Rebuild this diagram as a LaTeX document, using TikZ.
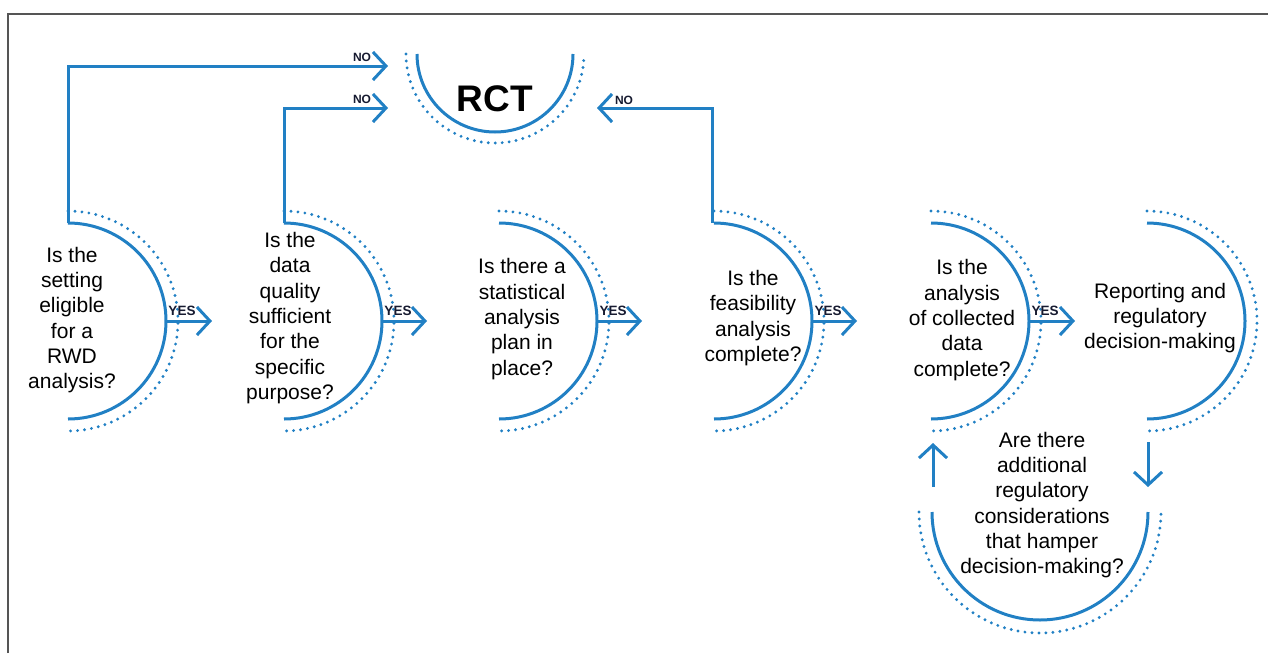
\documentclass[tikz,border=0pt]{standalone}
\usepackage{fontspec}
\setmainfont{Liberation Sans}
\usetikzlibrary{arrows.meta}
\definecolor{flowblue}{RGB}{33,128,196}
\definecolor{lblcol}{RGB}{22,26,48}
\definecolor{framegray}{RGB}{85,85,85}
\tikzset{
  solidarc/.style={draw=flowblue, line width=3pt},
  dotarc/.style={draw=flowblue, line width=3.2pt, line cap=round, dash pattern=on 0pt off 7pt},
  flowarrow/.style={draw=flowblue, line width=3pt, -{Straight Barb[length=13pt,width=28pt,line width=3pt]}},
  qtext/.style={font=\fontsize{21}{25.3}\selectfont, align=center, text=black, inner sep=0pt},
  lbl/.style={font=\fontsize{12}{13}\selectfont\bfseries, text=lblcol, inner sep=0pt},
  ylbl/.style={font=\fontsize{13.5}{14}\selectfont\bfseries, text=lblcol, inner sep=0pt},
}
\begin{document}
\begin{tikzpicture}[x=1pt,y=1pt]
\useasboundingbox (0,0) rectangle (1268,-653);
% frame
\draw[framegray, line width=2pt] (8,-653) -- (8,-14) -- (1268,-14);

% RCT
\draw[solidarc] (417,-54) arc[start angle=180, end angle=360, radius=78];
\draw[dotarc] (406,-54) arc[start angle=180, end angle=360, radius=89];
\node[font=\fontsize{37}{40}\selectfont\bfseries, inner sep=0pt] (rct) at (495,-99) {RCT};

% side half circles
\foreach \cx in {68,284,499,714,931,1147}{
  \draw[solidarc] (\cx,-223) arc[start angle=90, end angle=-90, radius=98];
  \draw[dotarc] (\cx,-211) arc[start angle=90, end angle=-90, radius=110];
}
% bottom half circle
\draw[solidarc] (932,-512) arc[start angle=180, end angle=360, radius=108];
\draw[dotarc] (919,-512) arc[start angle=180, end angle=360, radius=121];

% texts
\node[qtext] (q1) at (72,-320) {Is the\\setting\\eligible\\for a\\RWD\\analysis?};
\node[qtext] (q2) at (290,-318) {Is the\\data\\quality\\sufficient\\for the\\specific\\purpose?};
\node[qtext] (q3) at (522,-319) {Is there a\\statistical\\analysis\\plan in\\place?};
\node[qtext] (q4) at (753,-318) {Is the\\feasibility\\analysis\\complete?};
\node[qtext] (q5) at (962,-320) {Is the\\analysis\\of collected\\data\\complete?};
\node[qtext] (q6) at (1160,-318) {Reporting and\\regulatory\\decision-making};
\node[qtext] (q7) at (1042,-505) {Are there\\additional\\regulatory\\considerations\\that hamper\\decision-making?};

% connector points
\coordinate (q1top) at (68,-223);
\coordinate (q2top) at (284,-223);
\coordinate (q4top) at (712,-223);
\coordinate (rctinA) at (388,-66);
\coordinate (rctinB) at (388,-108);
\coordinate (rctinC) at (597,-108);
\coordinate (q1out) at (166,-321);
\coordinate (q2in) at (212,-321);
\coordinate (q2out) at (382,-321);
\coordinate (q3in) at (427,-321);
\coordinate (q3out) at (597,-321);
\coordinate (q4in) at (642,-321);
\coordinate (q4out) at (812,-321);
\coordinate (q5in) at (857,-321);
\coordinate (q5out) at (1029,-321);
\coordinate (q6in) at (1075,-321);
\coordinate (q6down) at (1148,-442);
\coordinate (q7in) at (1148,-487);
\coordinate (q7up) at (933,-487);
\coordinate (q5in2) at (933,-443);

% NO connectors
\draw[flowarrow] (q1top) |- (rctinA);
\draw[flowarrow] (q2top) |- (rctinB);
\draw[flowarrow] (q4top) |- (rctinC);
\node[lbl] (no1) at (362,-57) {NO};
\node[lbl] (no2) at (362,-99) {NO};
\node[lbl] (no3) at (624,-100) {NO};

% YES connectors
\draw[flowarrow] (q1out) -- (q2in);
\draw[flowarrow] (q2out) -- (q3in);
\draw[flowarrow] (q3out) -- (q4in);
\draw[flowarrow] (q4out) -- (q5in);
\draw[flowarrow] (q5out) -- (q6in);
\node[ylbl] (yes1) at (182,-311) {YES};
\node[ylbl] (yes2) at (398,-311) {YES};
\node[ylbl] (yes3) at (613,-311) {YES};
\node[ylbl] (yes4) at (828,-311) {YES};
\node[ylbl] (yes5) at (1045,-311) {YES};

% loop connectors
\draw[flowarrow] (q6down) -- (q7in);
\draw[flowarrow] (q7up) -- (q5in2);
\end{tikzpicture}
\end{document}
